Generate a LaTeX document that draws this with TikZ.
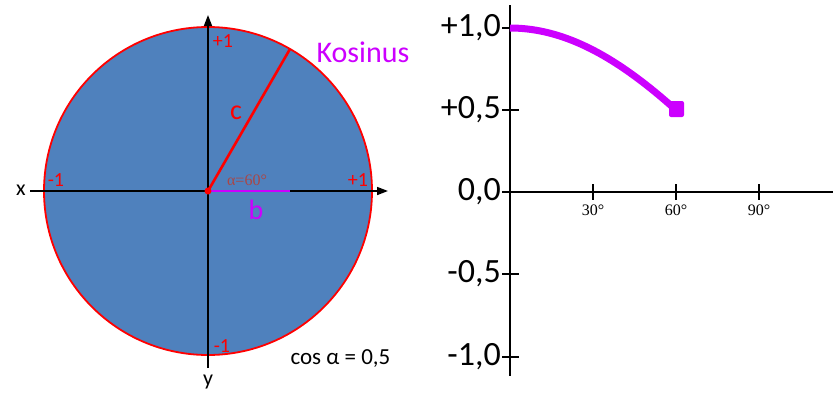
\documentclass[tikz,border=0pt]{standalone}
\usepackage{fontspec}
\setmainfont{Carlito}
\newfontfamily\seriffont{Liberation Serif}
\usetikzlibrary{positioning, arrows.meta}
\definecolor{kreis}{RGB}{79,129,189}
\definecolor{lila}{RGB}{204,0,255}
\definecolor{winkel}{RGB}{170,70,70}

\begin{document}
\begin{tikzpicture}[x=1pt, y=-1pt,
    axis/.style={line width=1.6pt, -{Triangle[length=11pt, width=8pt]}},
    redlabel/.style={text=red, font=\fontsize{20}{22}\selectfont, inner sep=0pt},
    ylab/.style={font=\fontsize{34}{36}\selectfont, anchor=east, inner sep=0pt},
    xlab/.style={font=\seriffont\fontsize{16}{18}\selectfont, inner sep=0pt}]
    \useasboundingbox (0,0) rectangle (833,400);

    % unit circle
    \coordinate (o) at (208,191);
    \fill[kreis, draw=red, line width=1.8pt] (o) circle (164);
    \coordinate (p) at (290,49);
    \coordinate (q) at (290,191);

    \node (x) at (21,190) {\fontsize{22}{24}\selectfont x};
    \node (y) at (208,382) {\fontsize{22}{24}\selectfont y};
    \coordinate (xa) at (30,191);
    \coordinate (xb) at (388,191);
    \coordinate (ya) at (208,368);
    \coordinate (yb) at (208,15);
    \draw[axis] (xa) -- (xb);
    \draw[axis] (ya) -- (yb);

    \draw[lila, line width=2.8pt] (o) -- (q);
    \draw[red, line width=2.6pt] (o) -- (p);
    \fill[red] (o) circle (3.5);

    \node[redlabel] (top) at (223,41) {+1};
    \node[redlabel] (left) at (56,180) {-1};
    \node[redlabel] (right) at (358,180) {+1};
    \node[redlabel] (bottom) at (222,346) {-1};
    \node[text=red, font=\fontsize{28}{30}\selectfont] (c) at (236,113) {c};
    \node[text=lila, font=\fontsize{28}{30}\selectfont] (b) at (256,210) {b};
    \node[text=winkel, font=\seriffont\fontsize{16}{18}\selectfont] (alpha) at (247,180) {α=60°};
    \node[text=lila, font=\fontsize{30}{32}\selectfont, anchor=west] (kos) at (313,52) {Kosinus};
    \node[font=\fontsize{23}{25}\selectfont, anchor=west] (cos) at (287,359) {cos α = 0,5};

    % graph
    \coordinate (g) at (510,192);
    \coordinate (gt) at (510,5);
    \coordinate (gb) at (510,376);
    \coordinate (gr) at (833,192);
    \draw[line width=1.6pt] (gt) -- (gb);
    \draw[line width=1.6pt] (g) -- (gr);
    \foreach \v/\lab in {28/+1{,}0, 110/+0{,}5, 192/0{,}0, 274/-0{,}5, 357/-1{,}0} {
        \draw[line width=1.6pt] (502,\v) -- (519,\v);
        \node[ylab] at (501,\v) {\lab};
    }
    \foreach \u/\lab in {593/30°, 676/60°, 759/90°} {
        \draw[line width=1.6pt] (\u,184) -- (\u,200);
        \node[xlab] at (\u,210) {\lab};
    }
    \draw[lila, line width=7pt, domain=0:60, samples=40, variable=\t]
        plot ({510+\t*83/30}, {192-164*cos(\t)});
    \fill[lila, rounded corners=2pt] (669,101) rectangle (684,117);
\end{tikzpicture}
\end{document}
